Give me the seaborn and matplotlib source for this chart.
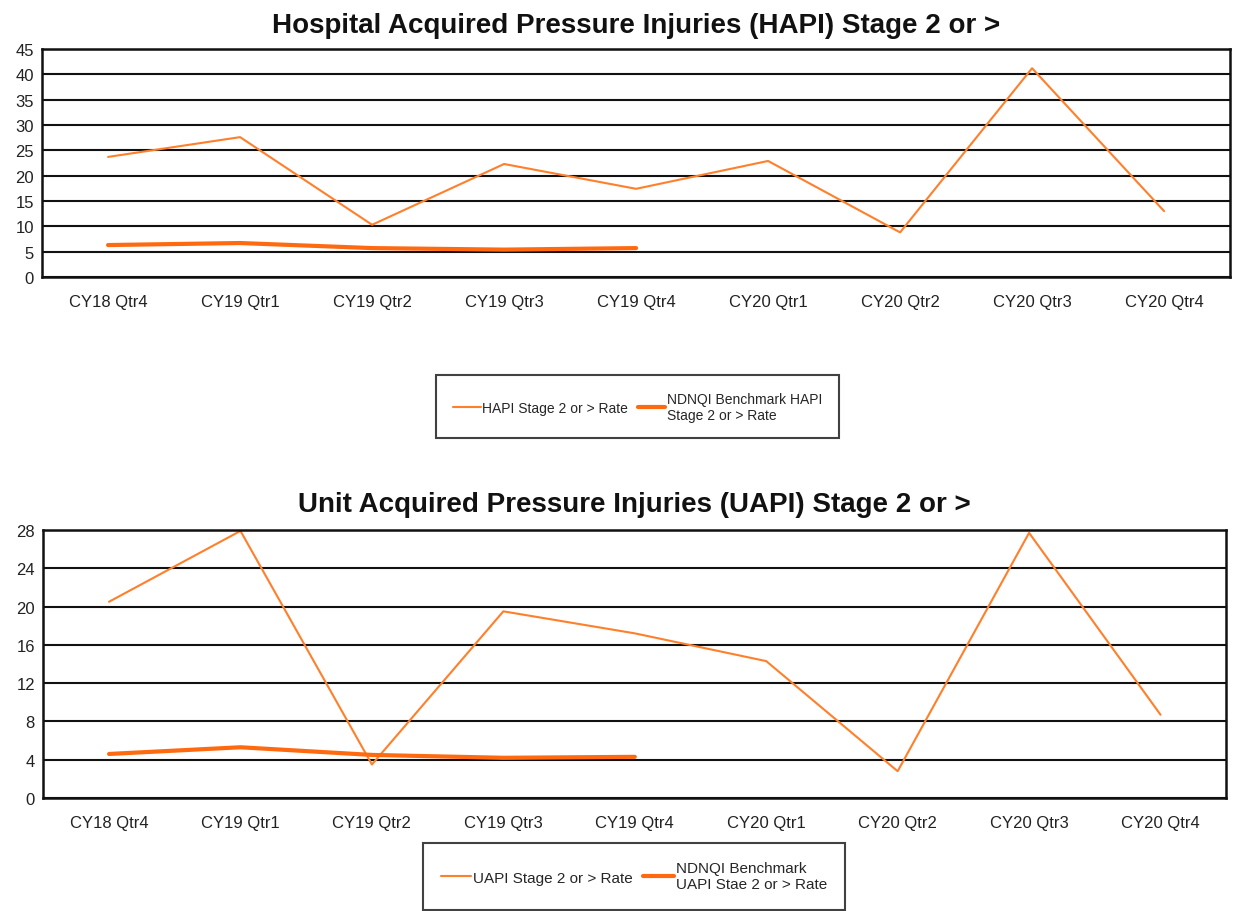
import matplotlib
matplotlib.use("Agg")
import matplotlib.pyplot as plt
import seaborn as sns
import pandas as pd

quarters = ["CY18 Qtr4", "CY19 Qtr1", "CY19 Qtr2", "CY19 Qtr3", "CY19 Qtr4",
            "CY20 Qtr1", "CY20 Qtr2", "CY20 Qtr3", "CY20 Qtr4"]
hapi_rate = [23.7, 27.6, 10.3, 22.3, 17.4, 22.9, 8.8, 41.2, 13.0]
hapi_bench = [6.3, 6.7, 5.7, 5.4, 5.7]
uapi_rate = [20.5, 27.9, 3.5, 19.5, 17.2, 14.3, 2.8, 27.7, 8.7]
uapi_bench = [4.6, 5.3, 4.5, 4.2, 4.3]

hapi_title = "Hospital Acquired Pressure Injuries (HAPI) Stage 2 or >"
uapi_title = "Unit Acquired Pressure Injuries (UAPI) Stage 2 or >"
hapi_labels = ["HAPI Stage 2 or > Rate", "NDNQI Benchmark HAPI\nStage 2 or > Rate"]
uapi_labels = ["UAPI Stage 2 or > Rate", "NDNQI Benchmark\nUAPI Stae 2 or > Rate"]
hapi_yticks = list(range(0, 50, 5))
uapi_yticks = list(range(0, 32, 4))

sns.set_theme(style="white")
plt.rcParams["font.family"] = ["Liberation Sans", "DejaVu Sans"]

RATE_C = "#ff7f2a"
BENCH_C = "#ff6a10"

fig = plt.figure(figsize=(12.38, 9.12), dpi=100)


def draw(ax, rate, bench, title, labels, yticks, ymax, leg_anchor, leg_fs, tpad):
    x = list(range(len(quarters)))
    df_r = pd.DataFrame({"x": x, "y": rate})
    df_b = pd.DataFrame({"x": x[:len(bench)], "y": bench})
    sns.lineplot(data=df_r, x="x", y="y", ax=ax, color=RATE_C, lw=1.5,
                 sort=False, label=labels[0], legend=False)
    sns.lineplot(data=df_b, x="x", y="y", ax=ax, color=BENCH_C, lw=3.0,
                 sort=False, label=labels[1], legend=False)
    ax.set_xlim(-0.5, len(quarters) - 0.5)
    ax.set_ylim(0, ymax)
    ax.set_yticks(yticks)
    ax.set_xticks(x)
    ax.set_xticklabels(quarters)
    ax.set_xlabel("")
    ax.set_ylabel("")
    ax.tick_params(axis="both", labelsize=12, colors="#222222", length=0)
    ax.tick_params(axis="y", pad=6)
    ax.tick_params(axis="x", pad=12)
    ax.yaxis.grid(True, color="#111111", lw=1.5)
    ax.set_axisbelow(True)
    for sp in ax.spines.values():
        sp.set_visible(True)
        sp.set_color("#111111")
        sp.set_linewidth(1.8)
    ax.set_title(title, fontsize=20, fontweight="bold", pad=tpad, color="#111111")
    h, l = ax.get_legend_handles_labels()
    leg = fig.legend(h, l, loc="center", bbox_to_anchor=leg_anchor, ncol=2,
                     fontsize=leg_fs, frameon=True, fancybox=False,
                     edgecolor="#111111", borderpad=1.2, handlelength=2.0,
                     handletextpad=0.1, columnspacing=0.7)
    leg.get_frame().set_linewidth(1.5)


ax1 = fig.add_axes([0.034, 0.6952, 0.9596, 0.25])
draw(ax1, hapi_rate, hapi_bench, hapi_title, hapi_labels, hapi_yticks, 45,
     (0.515, 0.553), 10, 12)

ax2 = fig.add_axes([0.035, 0.1239, 0.9555, 0.2939])
draw(ax2, uapi_rate, uapi_bench, uapi_title, uapi_labels, uapi_yticks, 28,
     (0.512, 0.038), 11, 14)

fig.savefig("out.png", dpi=100)
